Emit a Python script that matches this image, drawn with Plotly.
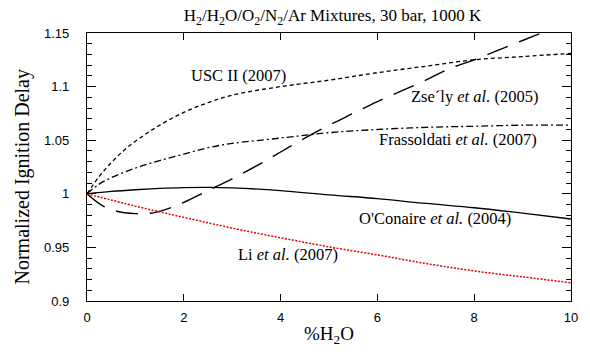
import plotly.graph_objects as go

# %H2O in the mixture
x_usc = [0, 0.25, 0.5, 0.75, 1.0, 1.5, 2.0, 2.5, 3.0, 4.0, 5.0, 6.0, 7.0, 8.0, 9.0, 10.0]
y_usc = [1.0, 1.016, 1.029, 1.040, 1.049, 1.064, 1.076, 1.085, 1.092, 1.100, 1.106, 1.113, 1.119, 1.125, 1.128, 1.131]

x_frass = [0, 0.25, 0.5, 1.0, 1.5, 2.0, 2.5, 3.0, 4.0, 5.0, 6.0, 7.0, 8.0, 9.0, 10.0]
y_frass = [1.0, 1.009, 1.015, 1.024, 1.031, 1.037, 1.043, 1.047, 1.052, 1.057, 1.060, 1.062, 1.063, 1.064, 1.064]

x_zsely = [0, 0.3, 0.6, 1.0, 1.3, 1.6, 2.0, 2.5, 3.0, 3.5, 4.0, 4.5, 5.0, 5.5, 6.0, 6.5, 7.0, 7.5, 8.0, 8.5, 9.0, 9.5, 10.0]
y_zsely = [1.0, 0.9895, 0.984, 0.9815, 0.9818, 0.985, 0.992, 1.003, 1.014, 1.026, 1.039, 1.052, 1.064, 1.075, 1.086, 1.096, 1.106, 1.117, 1.125, 1.134, 1.143, 1.152, 1.161]

x_oconaire = [0, 0.5, 1.0, 1.5, 2.0, 2.5, 3.0, 4.0, 5.0, 6.0, 7.0, 8.0, 9.0, 10.0]
y_oconaire = [1.0, 1.0022, 1.0038, 1.005, 1.0058, 1.006, 1.0055, 1.003, 0.999, 0.9955, 0.991, 0.987, 0.982, 0.9765]

x_li = [0, 1, 2, 3, 4, 5, 6, 7, 8, 9, 10]
y_li = [1.0, 0.9885, 0.978, 0.968, 0.959, 0.9505, 0.943, 0.935, 0.928, 0.9225, 0.917]

SERIF = "Liberation Serif"
SANS = "Liberation Sans"

fig = go.Figure()

fig.add_trace(go.Scatter(x=x_usc, y=y_usc, mode="lines", line_shape="spline",
                         line=dict(color="black", width=1.3, dash="4px,3px")))
fig.add_trace(go.Scatter(x=x_frass, y=y_frass, mode="lines", line_shape="spline",
                         line=dict(color="black", width=1.3, dash="7px,3px,2px,3px")))
fig.add_trace(go.Scatter(x=x_zsely, y=y_zsely, mode="lines", line_shape="spline",
                         line=dict(color="black", width=1.4, dash="22px,12px")))
fig.add_trace(go.Scatter(x=x_oconaire, y=y_oconaire, mode="lines", line_shape="spline",
                         line=dict(color="black", width=1.3)))
fig.add_trace(go.Scatter(x=x_li, y=y_li, mode="lines", line_shape="spline",
                         line=dict(color="#e00000", width=1.5, dash="2px,1.5px")))

labels = [
    (3.13, 1.110, "USC II (2007)"),
    (8.0, 1.0906, "Zse\u00b4ly <i>et al.</i> (2005)"),
    (7.67, 1.0502, "Frassoldati <i>et al.</i> (2007)"),
    (7.18, 0.9768, "O'Conaire <i>et al.</i> (2004)"),
    (4.15, 0.9438, "Li <i>et al.</i> (2007)"),
]
for lx, ly, txt in labels:
    fig.add_annotation(x=lx, y=ly, text=txt, showarrow=False,
                       font=dict(family=SERIF, size=16.5, color="black"))

# y-axis title, placed as a rotated annotation
fig.add_annotation(xref="paper", yref="paper", x=-0.134, y=0.465,
                   text="Normalized Ignition Delay", textangle=-90, showarrow=False,
                   xanchor="center", yanchor="middle",
                   font=dict(family=SERIF, size=20, color="black"))

fig.update_layout(
    width=590, height=352,
    margin=dict(l=87, r=14, t=33, b=46),
    paper_bgcolor="white", plot_bgcolor="white",
    showlegend=False,
    title=dict(text="H<sub>2</sub>/H<sub>2</sub>O/O<sub>2</sub>/N<sub>2</sub>/Ar Mixtures, 30 bar, 1000 K",
               x=0.5636, xanchor="center", y=0.957, yanchor="middle",
               font=dict(family=SERIF, size=17, color="black")),
)

fig.update_xaxes(
    range=[0, 10], tickvals=[0, 2, 4, 6, 8, 10],
    ticks="inside", ticklen=7, tickwidth=1, tickcolor="black",
    showline=True, linecolor="black", linewidth=1.3, mirror="allticks",
    showgrid=False, zeroline=False,
    tickfont=dict(family=SANS, size=13, color="black"),
    ticklabelstandoff=4,
    title=dict(text="%H<sub>2</sub>O", font=dict(family=SERIF, size=19, color="black"), standoff=2),
)
fig.update_yaxes(
    range=[0.9, 1.15], tickvals=[0.9, 0.95, 1.0, 1.05, 1.1, 1.15],
    ticktext=["0.9", "0.95", "1", "1.05", "1.1", "1.15"],
    ticks="inside", ticklen=9, tickwidth=1, tickcolor="black",
    minor=dict(dtick=0.01, ticks="inside", ticklen=5, tickwidth=1, tickcolor="black"),
    showline=True, linecolor="black", linewidth=1.3, mirror="allticks",
    showgrid=False, zeroline=False,
    tickfont=dict(family=SANS, size=13, color="black"),
    ticklabelstandoff=14,
)

fig.write_html("out.html")
